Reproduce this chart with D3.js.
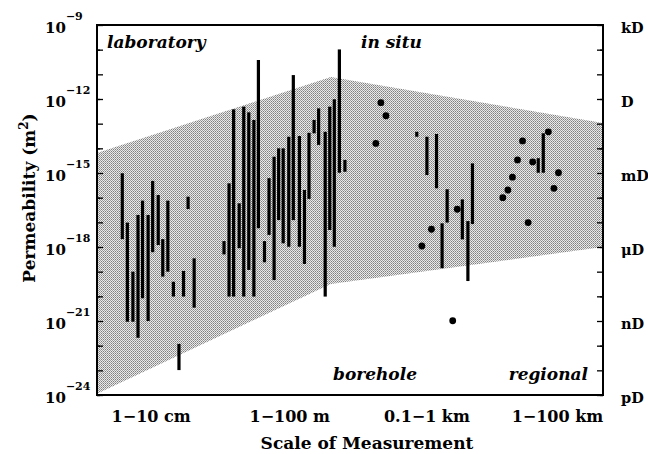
<!DOCTYPE html>
<html>
<head>
<meta charset="utf-8">
<script src="https://cdn.jsdelivr.net/npm/d3@7"></script>
<style>
  body { margin: 0; background: #fff; }
  text { font-family: "DejaVu Serif", serif; font-weight: bold; fill: #000; }
</style>
</head>
<body>
<svg id="chart" width="648" height="454"></svg>
<script>
// scale of measurement categories (x is an ordinal-ish 0-100 position)
var scaleCats = ["1-10 cm", "1-100 m", "0.1-1 km", "1-100 km"];
var scalePos = [10.7, 38.1, 65.2, 91.0];

// permeability decades (log10 m^2) and darcy equivalents
var tickExps = [-24, -21, -18, -15, -12, -9];
var darcyLabels = ["pD", "nD", "\u03bcD", "mD", "D", "kD"];

// range bars: position, low and high log10 permeability
var barX  = [5.0, 6.0, 7.1, 8.1, 9.0, 10.1, 11.0, 12.1, 13.0, 14.0, 15.1, 16.2, 17.1, 18.0, 19.2,
             25.1, 26.1, 27.0, 28.1, 29.0, 30.0, 31.0, 31.9, 33.1, 34.0, 35.0, 35.9, 36.8, 37.9, 38.8,
             40.0, 41.0, 41.9, 42.9, 43.8, 45.1, 46.0, 46.9, 47.9, 49.0,
             63.2, 65.2, 67.1, 68.2, 69.2, 72.2, 73.3, 74.2,
             87.2, 88.2];
var barLo = [-17.68, -21.03, -21.03, -21.68, -20.08, -21.0, -18.21, -17.92, -19.20, -19.0, -20.01, -22.99, -20.01, -16.46, -20.46,
             -18.30, -20.01, -20.01, -18.05, -20.01, -18.93, -20.01, -17.24, -18.62, -17.51, -19.34, -16.91, -17.85, -17.99, -16.91,
             -17.99, -18.69, -16.05, -13.39, -13.86, -20.01, -17.31, -17.99, -14.99, -14.95,
             -13.53, -15.08, -15.62, -18.86, -17.01, -17.69, -19.38, -17.07,
             -14.99, -14.99];
var barHi = [-15.01, -17.01, -19.0, -16.70, -16.12, -16.70, -15.32, -15.89, -17.68, -16.12, -19.41, -21.93, -18.97, -15.96, -18.46,
             -17.76, -15.42, -12.42, -16.23, -12.31, -12.54, -12.85, -10.42, -17.76, -15.21, -14.34, -14.0, -14.0, -13.53, -11.03,
             -13.5, -15.69, -13.37, -12.85, -12.38, -13.33, -12.31, -12.01, -9.99, -14.47,
             -13.33, -13.53, -13.42, -17.04, -15.66, -16.07, -16.95, -14.61,
             -14.40, -13.39];

// single measurements
var dotX = [55.1, 56.1, 57.1, 64.2, 66.1, 71.2, 70.3,
            80.2, 81.2, 82.1, 83.1, 84.1, 86.1, 85.2, 89.2, 91.2, 90.3];
var dotY = [-13.80, -12.15, -12.68, -17.96, -17.28, -16.47, -20.99,
            -16.0, -15.69, -15.17, -14.47, -13.70, -14.55, -17.01, -13.33, -14.99, -15.62];

// envelope of the shaded band
var bandX   = [0, 46.2, 100, 100, 46.2, 0];
var bandExp = [-14.19, -11.11, -12.97, -18.0, -19.5, -23.95];

var margin = {top: 25, right: 45, bottom: 59, left: 97},
    width = 648 - margin.left - margin.right,
    height = 454 - margin.top - margin.bottom;

var svg = d3.select("#chart");

// stipple pattern for the band
var pat = svg.append("defs").append("pattern")
    .attr("id", "stipple")
    .attr("width", 2).attr("height", 2)
    .attr("patternUnits", "userSpaceOnUse");
pat.append("rect").attr("width", 2).attr("height", 2).attr("fill", "#eaeaea");
pat.append("rect").attr("width", 1).attr("height", 1).attr("fill", "#808080");
pat.append("rect").attr("x", 1).attr("y", 1).attr("width", 1).attr("height", 1).attr("fill", "#a0a0a0");

var g = svg.append("g")
    .attr("transform", "translate(" + margin.left + "," + margin.top + ")");

var x = d3.scaleLinear().domain([0, 100]).range([0, width]);
var y = d3.scaleLog().domain([1e-24, 1e-9]).range([height, 0]);

function p(e) { return Math.pow(10, e); }

// shaded band
var band = bandX.map(function(d, i) { return [x(d), y(p(bandExp[i]))]; });
g.append("path")
    .attr("d", d3.line()(band) + "Z")
    .attr("fill", "url(#stipple)");

// bars
g.selectAll(".bar")
    .data(barX)
  .enter().append("line")
    .attr("class", "bar")
    .attr("x1", function(d) { return x(d); })
    .attr("x2", function(d) { return x(d); })
    .attr("y1", function(d, i) { return y(p(barLo[i])); })
    .attr("y2", function(d, i) { return y(p(barHi[i])); })
    .attr("stroke", "#000")
    .attr("stroke-width", 3.2);

// dots
g.selectAll(".dot")
    .data(dotX)
  .enter().append("circle")
    .attr("class", "dot")
    .attr("cx", function(d) { return x(d); })
    .attr("cy", function(d, i) { return y(p(dotY[i])); })
    .attr("r", 3.4)
    .attr("fill", "#000");

// minor and major ticks, inward on both sides
var allTicks = y.ticks();
var decades = d3.range(-24, -8).map(p);

function tickAxis(axisFn, vals, size, tx) {
  g.append("g")
    .attr("transform", "translate(" + tx + ",0)")
    .call(axisFn(y).tickValues(vals).tickSize(size).tickFormat(""))
    .call(function(s) { s.select(".domain").remove(); })
    .selectAll("line").attr("stroke-width", 1.3);
}
tickAxis(d3.axisLeft, allTicks, -3, 0);
tickAxis(d3.axisLeft, decades, -6, 0);
tickAxis(d3.axisRight, allTicks, -3, width);
tickAxis(d3.axisRight, decades, -6, width);

// frame
g.append("rect")
    .attr("width", width)
    .attr("height", height)
    .attr("fill", "none")
    .attr("stroke", "#000")
    .attr("stroke-width", 2);

// left tick labels 10^n
tickExps.forEach(function(e) {
  var t = g.append("text")
      .attr("x", -52)
      .attr("y", y(p(e)) + 8)
      .style("font-size", "15px");
  t.append("tspan").text("10");
  t.append("tspan").attr("dy", -13).style("font-size", "11px").text("\u2212" + (-e));
});

// right darcy labels
darcyLabels.forEach(function(d, i) {
  g.append("text")
    .attr("x", width + 18)
    .attr("y", y(p(tickExps[i])) + 8)
    .style("font-size", "14.5px")
    .text(d);
});

// x category labels
scaleCats.forEach(function(d, i) {
  g.append("text")
    .attr("x", x(scalePos[i]))
    .attr("y", height + 27)
    .attr("text-anchor", "middle")
    .style("font-size", "16px")
    .text(d.replace(/-/g, "\u2212"));
});

// axis titles
svg.append("text")
    .attr("x", 367)
    .attr("y", 449)
    .attr("text-anchor", "middle")
    .style("font-size", "17px")
    .text("Scale of Measurement");

var yt = svg.append("text")
    .attr("transform", "translate(35,198) rotate(-90)")
    .attr("text-anchor", "middle")
    .style("font-size", "17px");
yt.append("tspan").text("Permeability (m");
yt.append("tspan").attr("dy", -7).style("font-size", "12px").text("2");
yt.append("tspan").attr("dy", 7).text(")");

// region labels
var regionLabels = [
  {t: "laboratory", x: 10, y: 23, a: "start"},
  {t: "in situ", x: 264, y: 23, a: "start"},
  {t: "borehole", x: 236, y: 355, a: "start"},
  {t: "regional", x: 491, y: 355, a: "end"}
];
regionLabels.forEach(function(d) {
  g.append("text")
    .attr("x", d.x)
    .attr("y", d.y)
    .attr("text-anchor", d.a)
    .style("font-size", "17px")
    .style("font-style", "italic")
    .text(d.t);
});
</script>
</body>
</html>
